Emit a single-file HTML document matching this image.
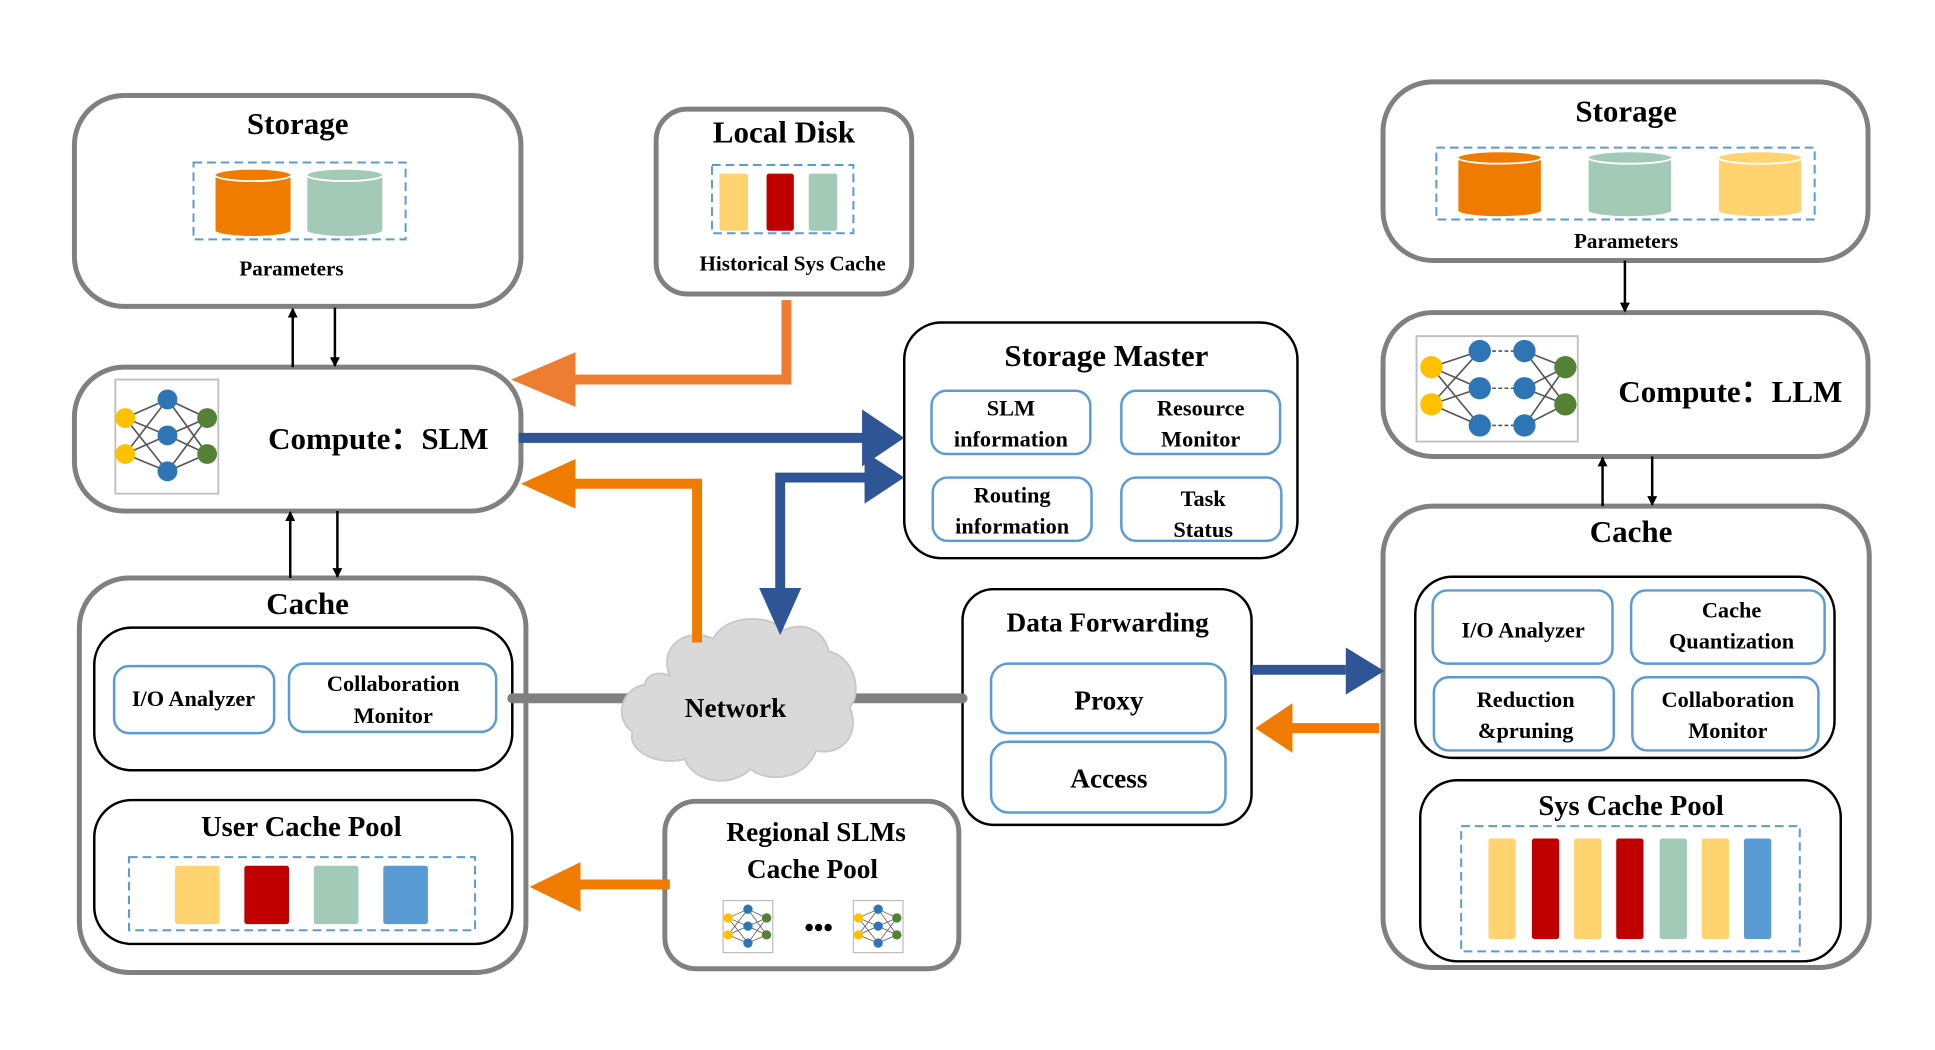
<!DOCTYPE html>
<html><head><meta charset="utf-8"><style>
html,body{margin:0;padding:0;background:#fff;width:1935px;height:1050px;overflow:hidden}
svg{display:block}
text{font-family:"Liberation Serif",serif;font-weight:bold;fill:#000;text-anchor:middle}
</style></head><body>
<svg width="1935" height="1050" viewBox="0 0 1560 846.5" preserveAspectRatio="none" xmlns="http://www.w3.org/2000/svg">
<defs>
<g id="nn">
<g stroke="#555" stroke-width="1.3">
<line x1="0" y1="15" x2="34" y2="0"/><line x1="0" y1="15" x2="34" y2="29"/><line x1="0" y1="15" x2="34" y2="58"/>
<line x1="0" y1="44" x2="34" y2="0"/><line x1="0" y1="44" x2="34" y2="29"/><line x1="0" y1="44" x2="34" y2="58"/>
<line x1="66" y1="15" x2="34" y2="0"/><line x1="66" y1="15" x2="34" y2="29"/><line x1="66" y1="15" x2="34" y2="58"/>
<line x1="66" y1="44" x2="34" y2="0"/><line x1="66" y1="44" x2="34" y2="29"/><line x1="66" y1="44" x2="34" y2="58"/>
</g>
<circle cx="0" cy="15" r="8" fill="#ffc000"/><circle cx="0" cy="44" r="8" fill="#ffc000"/>
<circle cx="34" cy="0" r="8" fill="#2e75b6"/><circle cx="34" cy="29" r="8" fill="#2e75b6"/><circle cx="34" cy="58" r="8" fill="#2e75b6"/>
<circle cx="66" cy="15" r="8" fill="#538135"/><circle cx="66" cy="44" r="8" fill="#538135"/>
</g>
<marker id="ah" markerWidth="8" markerHeight="8" refX="7" refY="4" orient="auto" markerUnits="userSpaceOnUse"><path d="M0,0 L8,4 L0,8z" fill="#000"/></marker>
</defs>
<g fill="#fff" stroke="#808080" stroke-width="4">
<rect x="60" y="77" width="360" height="170" rx="40"/>
<rect x="529" y="88" width="206" height="149" rx="25"/>
<rect x="60" y="296" width="360" height="116" rx="40"/>
<rect x="64" y="466" width="360" height="318" rx="40"/>
<rect x="536" y="646" width="237" height="135" rx="25"/>
<rect x="1115" y="66" width="391" height="144" rx="40"/>
<rect x="1115" y="252" width="391" height="116" rx="40"/>
<rect x="1115" y="408" width="392" height="372" rx="40"/>
</g>
<g fill="#fff" stroke="#000" stroke-width="2">
<rect x="729" y="260" width="317" height="190" rx="30"/>
<rect x="776" y="475" width="233" height="190" rx="25"/>
<rect x="76" y="506" width="337" height="115" rx="30"/>
<rect x="76" y="645" width="337" height="116" rx="30"/>
<rect x="1141" y="465" width="338" height="146" rx="30"/>
<rect x="1145" y="629" width="339" height="146" rx="30"/>
</g>
<g fill="#fff" stroke="#5b9bd5" stroke-width="2">
<rect x="751" y="315" width="128" height="51" rx="12"/>
<rect x="904" y="315" width="128" height="51" rx="12"/>
<rect x="752" y="385" width="128" height="51" rx="12"/>
<rect x="904" y="385" width="129" height="51" rx="12"/>
<rect x="799" y="535" width="189" height="56" rx="14"/>
<rect x="799" y="598" width="189" height="57" rx="14"/>
<rect x="92" y="537" width="129" height="54" rx="12"/>
<rect x="233" y="535" width="167" height="55" rx="12"/>
<rect x="1155" y="476" width="145" height="59" rx="12"/>
<rect x="1315" y="476" width="156" height="59" rx="12"/>
<rect x="1156" y="546" width="145" height="59" rx="12"/>
<rect x="1316" y="546" width="150" height="59" rx="12"/>
</g>
<g fill="none" stroke="#5b9bd5" stroke-width="1.6" stroke-dasharray="7,4">
<rect x="156" y="131" width="171" height="62"/>
<rect x="574" y="133" width="114" height="55"/>
<rect x="104" y="691" width="279" height="59"/>
<rect x="1158" y="119" width="305" height="58"/>
<rect x="1178" y="666" width="273" height="101"/>
</g>
<!-- cylinders -->
<g stroke="#fff" stroke-width="1.5">
<path d="M173,141 v45 a31,5 0 0 0 62,0 v-45z" fill="#ef7b00"/><ellipse cx="204" cy="141" rx="31" ry="5" fill="#ef7b00"/>
<path d="M247,141 v45 a31,5 0 0 0 62,0 v-45z" fill="#a3cab6"/><ellipse cx="278" cy="141" rx="31" ry="5" fill="#a3cab6"/>
<path d="M1175,127 v43 a34,5 0 0 0 68,0 v-43z" fill="#ef7b00"/><ellipse cx="1209" cy="127" rx="34" ry="5" fill="#ef7b00"/>
<path d="M1280,127 v43 a34,5 0 0 0 68,0 v-43z" fill="#a3cab6"/><ellipse cx="1314" cy="127" rx="34" ry="5" fill="#a3cab6"/>
<path d="M1385,127 v43 a34,5 0 0 0 68,0 v-43z" fill="#ffd36f"/><ellipse cx="1419" cy="127" rx="34" ry="5" fill="#ffd36f"/>
</g>
<!-- bars -->
<g>
<rect x="580" y="140" width="23" height="46" rx="2" fill="#ffd36f"/><rect x="618" y="140" width="22" height="46" rx="2" fill="#c00000"/><rect x="652" y="140" width="23" height="46" rx="2" fill="#a3cab6"/>
<rect x="141" y="698" width="36" height="47" rx="2" fill="#ffd36f"/><rect x="197" y="698" width="36" height="47" rx="2" fill="#c00000"/><rect x="253" y="698" width="36" height="47" rx="2" fill="#a3cab6"/><rect x="309" y="698" width="36" height="47" rx="2" fill="#5b9bd5"/>
<rect x="1200" y="676" width="22" height="81" rx="2" fill="#ffd36f"/><rect x="1235" y="676" width="22" height="81" rx="2" fill="#c00000"/><rect x="1269" y="676" width="22" height="81" rx="2" fill="#ffd36f"/><rect x="1303" y="676" width="22" height="81" rx="2" fill="#c00000"/><rect x="1338" y="676" width="22" height="81" rx="2" fill="#a3cab6"/><rect x="1372" y="676" width="22" height="81" rx="2" fill="#ffd36f"/><rect x="1406" y="676" width="22" height="81" rx="2" fill="#5b9bd5"/>
</g>
<!-- NN icons -->
<rect x="93" y="306" width="83" height="92" fill="#fff" stroke="#bfbfbf" stroke-width="1.5"/>
<use href="#nn" x="101" y="322"/>
<rect x="1142" y="271" width="130" height="85" fill="#fff" stroke="#bfbfbf" stroke-width="1.5"/>
<g stroke="#555" stroke-width="1.3">
<line x1="1154" y1="296" x2="1193" y2="283"/><line x1="1154" y1="296" x2="1193" y2="313"/><line x1="1154" y1="296" x2="1193" y2="343"/>
<line x1="1154" y1="326" x2="1193" y2="283"/><line x1="1154" y1="326" x2="1193" y2="313"/><line x1="1154" y1="326" x2="1193" y2="343"/>
<line x1="1262" y1="296" x2="1229" y2="283"/><line x1="1262" y1="296" x2="1229" y2="313"/><line x1="1262" y1="296" x2="1229" y2="343"/>
<line x1="1262" y1="326" x2="1229" y2="283"/><line x1="1262" y1="326" x2="1229" y2="313"/><line x1="1262" y1="326" x2="1229" y2="343"/>
<g stroke-dasharray="3,2"><line x1="1193" y1="283" x2="1229" y2="283"/><line x1="1193" y1="313" x2="1229" y2="313"/><line x1="1193" y1="343" x2="1229" y2="343"/></g>
</g>
<circle cx="1154" cy="296" r="9" fill="#ffc000"/><circle cx="1154" cy="326" r="9" fill="#ffc000"/>
<circle cx="1193" cy="283" r="9" fill="#2e75b6"/><circle cx="1193" cy="313" r="9" fill="#2e75b6"/><circle cx="1193" cy="343" r="9" fill="#2e75b6"/>
<circle cx="1229" cy="283" r="9" fill="#2e75b6"/><circle cx="1229" cy="313" r="9" fill="#2e75b6"/><circle cx="1229" cy="343" r="9" fill="#2e75b6"/>
<circle cx="1262" cy="296" r="9" fill="#538135"/><circle cx="1262" cy="326" r="9" fill="#538135"/>
<!-- small nn icons -->
<rect x="583" y="726" width="40" height="42" fill="#fff" stroke="#bfbfbf"/>
<g transform="translate(587,733) scale(0.47)"><use href="#nn"/></g>
<rect x="688" y="726" width="40" height="42" fill="#fff" stroke="#bfbfbf"/>
<g transform="translate(692,733) scale(0.47)"><use href="#nn"/></g>
<text x="660" y="755" font-size="22">•••</text>
<!-- thin black arrows -->
<g stroke="#000" stroke-width="2" marker-end="url(#ah)">
<line x1="236" y1="296" x2="236" y2="249"/><line x1="270" y1="248" x2="270" y2="295"/>
<line x1="234" y1="466" x2="234" y2="413"/><line x1="272" y1="412" x2="272" y2="465"/>
<line x1="1310" y1="210" x2="1310" y2="251"/>
<line x1="1292" y1="408" x2="1292" y2="369"/><line x1="1332" y1="368" x2="1332" y2="407"/>
</g>
<!-- gray connectors -->
<g stroke="#808080" stroke-width="8" stroke-linecap="round">
<line x1="413" y1="563" x2="512" y2="563"/><line x1="685" y1="563" x2="776" y2="563"/>
</g>
<!-- cloud -->
<path d="M540,545 C530,520 555,505 575,515 C585,495 620,495 632,508 C650,500 665,510 668,525 C690,530 695,560 685,570 C695,595 675,610 658,605 C650,628 620,632 605,620 C590,635 560,632 552,612 C530,618 505,605 510,590 C495,580 500,555 520,552 C520,545 530,540 540,545z" fill="#d9d9d9" stroke="#c8c8c8" stroke-width="1.5"/>
<text x="593" y="578" font-size="22">Network</text>
<!-- orange arrows -->
<g fill="none" stroke-width="8" stroke-linejoin="miter">
<path d="M634,242 V306 H458" stroke="#ed7d31"/>
<path d="M562,518 V390 H460" stroke="#ef7b00"/>
<path d="M1112,587 H1042" stroke="#ef7b00"/>
<path d="M540,713 H465" stroke="#ef7b00"/>
<path d="M418,353 H698" stroke="#2f5597"/>
<path d="M629,478 V385 H700" stroke="#2f5597"/>
<path d="M1009,540 H1085" stroke="#2f5597"/>
</g>
<g>
<path d="M412,306 L464,284 L464,328z" fill="#ed7d31"/>
<path d="M420,390 L464,370 L464,410z" fill="#ef7b00"/>
<path d="M1012,587 L1042,567 L1042,607z" fill="#ef7b00"/>
<path d="M427,715 L468,695 L468,735z" fill="#ef7b00"/>
<path d="M729,353 L695,330 L695,376z" fill="#2f5597"/>
<path d="M729,385 L697,364 L697,406z" fill="#2f5597"/>
<path d="M629,512 L612,474 L646,474z" fill="#2f5597"/>
<path d="M1116,541 L1085,522 L1085,560z" fill="#2f5597"/>
</g>
<!-- text -->
<text x="240" y="108" font-size="25">Storage</text>
<text x="235" y="222" font-size="17">Parameters</text>
<text x="632" y="115" font-size="25">Local Disk</text>
<text x="639" y="218" font-size="17">Historical Sys Cache</text>
<text x="305" y="362" font-size="25">Compute：SLM</text>
<text x="248" y="495" font-size="25">Cache</text>
<text x="156" y="569" font-size="18">I/O Analyzer</text>
<text x="317" y="557" font-size="18">Collaboration</text>
<text x="317" y="583" font-size="18">Monitor</text>
<text x="243" y="674" font-size="23">User Cache Pool</text>
<text x="892" y="295" font-size="25">Storage Master</text>
<text x="815" y="335" font-size="18">SLM</text><text x="815" y="360" font-size="18">information</text>
<text x="968" y="335" font-size="18">Resource</text><text x="968" y="360" font-size="18">Monitor</text>
<text x="816" y="405" font-size="18">Routing</text><text x="816" y="430" font-size="18">information</text>
<text x="970" y="408" font-size="18">Task</text><text x="970" y="433" font-size="18">Status</text>
<text x="893" y="509" font-size="22">Data Forwarding</text>
<text x="894" y="572" font-size="22">Proxy</text>
<text x="894" y="635" font-size="22">Access</text>
<text x="658" y="678" font-size="22">Regional SLMs</text>
<text x="655" y="708" font-size="22">Cache Pool</text>
<text x="1311" y="98" font-size="25">Storage</text>
<text x="1311" y="200" font-size="17">Parameters</text>
<text x="1395" y="324" font-size="25">Compute：LLM</text>
<text x="1315" y="437" font-size="25">Cache</text>
<text x="1228" y="514" font-size="18">I/O Analyzer</text>
<text x="1396" y="498" font-size="18">Cache</text><text x="1396" y="523" font-size="18">Quantization</text>
<text x="1230" y="570" font-size="18">Reduction</text><text x="1230" y="595" font-size="18">&amp;pruning</text>
<text x="1393" y="570" font-size="18">Collaboration</text><text x="1393" y="595" font-size="18">Monitor</text>
<text x="1315" y="657" font-size="23">Sys Cache Pool</text>
</svg>
</body></html>
